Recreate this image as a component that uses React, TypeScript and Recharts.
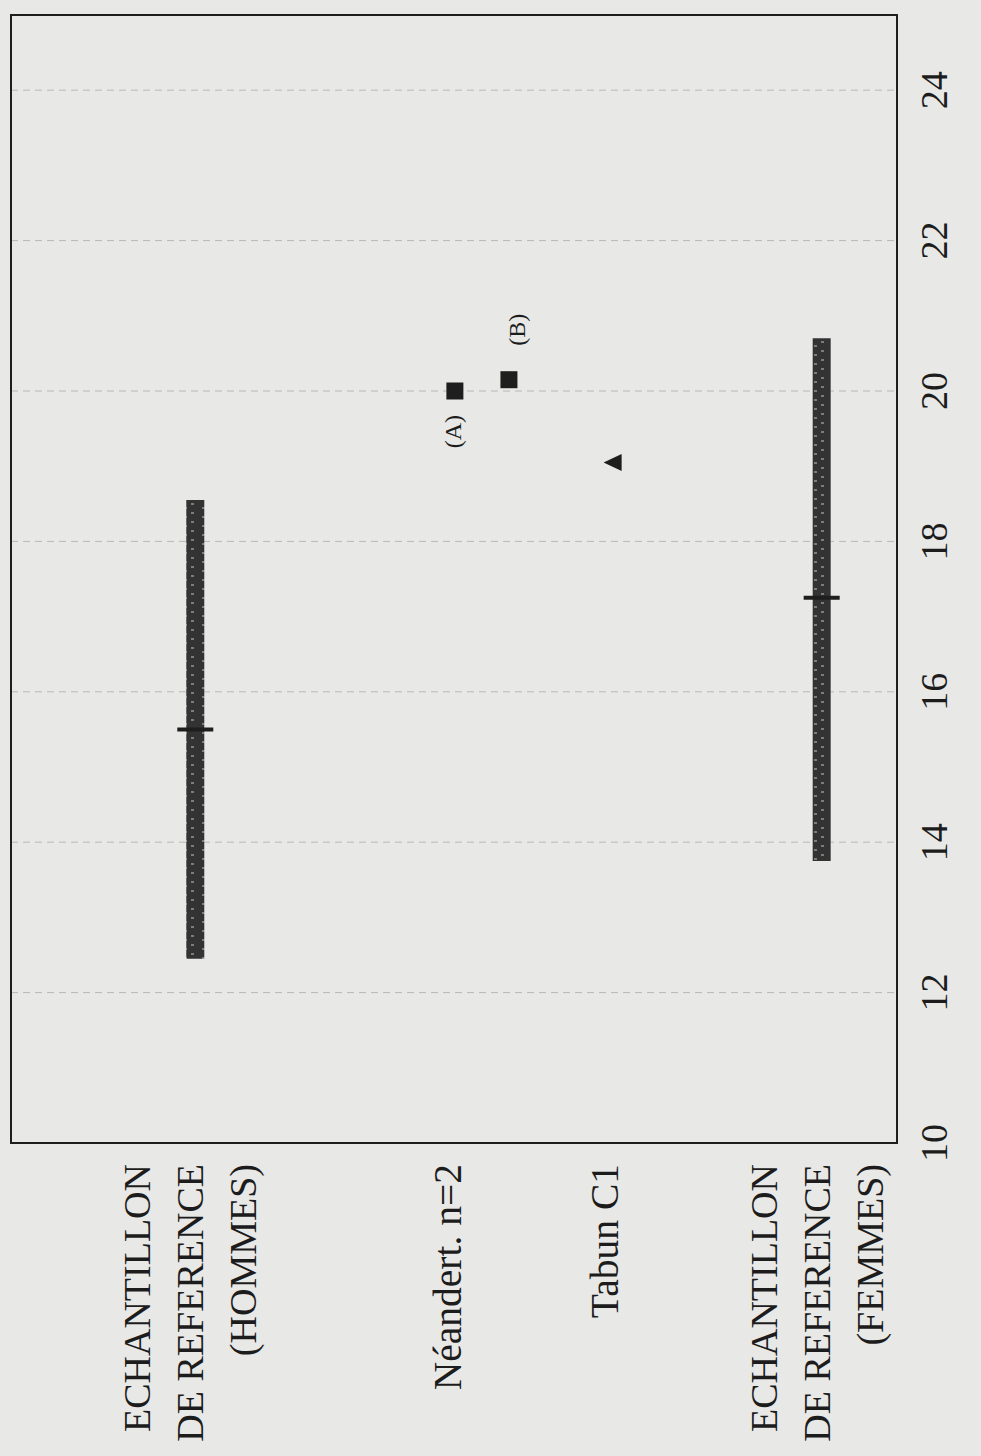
import React from 'react';
import { ScatterChart, Scatter, XAxis, YAxis, CartesianGrid, ReferenceArea } from 'recharts';

// numeric axis (drawn horizontally, then the whole chart is turned a quarter turn)
const xTicks = [10, 12, 14, 16, 18, 20, 22, 24];

// category labels on the row axis
const categoryLabels = [
    ['ECHANTILLON', 'DE REFERENCE', '(HOMMES)'],
    ['Néandert. n=2'],
    ['Tabun C1'],
    ['ECHANTILLON', 'DE REFERENCE', '(FEMMES)'],
];
const categoryRows = [20.2, 49.2, 67.0, 90.9];

// reference samples: range and mean
const refNames = ['HOMMES', 'FEMMES'];
const refMin = [12.45, 13.75];
const refMax = [18.55, 20.7];
const refMean = [15.5, 17.25];
const refRows = [20.8, 91.5];

// Neandertal individuals
const neandertLabels = ['(A)', '(B)'];
const neandertValues = [20.0, 20.15];
const neandertRows = [50.1, 56.2];

// Tabun C1
const tabunValues = [19.05];
const tabunRows = [67.9];

const FONT = '"Liberation Serif", "Times New Roman", serif';
const INK = '#1c1c1c';

const XTick = (props: any) => {
    const { x, y, payload } = props;
    return (
        <text x={x} y={y + 50} textAnchor="middle" fontSize={38} fontFamily={FONT} fill={INK}>
            {payload.value}
        </text>
    );
};

const YTick = (props: any) => {
    const { x, y, payload } = props;
    const i = categoryRows.indexOf(payload.value);
    const lines = categoryLabels[i] || [];
    const lh = 53;
    const size = lines.length > 1 ? 38 : 39.5;
    return (
        <text x={x - 21} y={y} textAnchor="end" fontSize={size} fontFamily={FONT} fill={INK}>
            {lines.map((l, k) => (
                <tspan key={k} x={x - 21} y={y + (k - (lines.length - 1) / 2) * lh} dy="0.35em">
                    {l}
                </tspan>
            ))}
        </text>
    );
};

const MeanTick = (props: any) => {
    const { cx, cy } = props;
    return <line x1={cx} x2={cx} y1={cy - 18} y2={cy + 18} stroke="#1e1e1e" strokeWidth={4} />;
};

const NoDot = () => <g />;

const SquareMark = (props: any) => {
    const { cx, cy, payload } = props;
    const isA = payload.label === '(A)';
    return (
        <g>
            <rect x={cx - 8.5} y={cy - 8.5} width={17} height={17} fill="#1e1e1e" />
            <text
                x={isA ? cx - 24 : cx + 34}
                y={isA ? cy - 2 : cy + 8}
                dy="0.35em"
                textAnchor={isA ? 'end' : 'start'}
                fontSize={24}
                fontFamily={FONT}
                fill={INK}
            >
                {payload.label}
            </text>
        </g>
    );
};

const TriangleMark = (props: any) => {
    const { cx, cy } = props;
    return <polygon points={`${cx},${cy - 9} ${cx + 8.5},${cy + 9} ${cx - 8.5},${cy + 9}`} fill="#1e1e1e" />;
};

export default function App() {
    const rangeData = refNames.map((_, i) => [
        { x: refMin[i], y: refRows[i] },
        { x: refMax[i], y: refRows[i] },
    ]);
    const meanData = refMean.map((m, i) => ({ x: m, y: refRows[i] }));
    const neandertData = neandertValues.map((v, i) => ({ x: v, y: neandertRows[i], label: neandertLabels[i] }));
    const tabunData = tabunValues.map((v, i) => ({ x: v, y: tabunRows[i] }));

    return (
        <div style={{ position: 'absolute', left: 0, top: 0, width: 981, height: 1456, overflow: 'hidden', background: '#e8e8e6' }}>
            <div
                style={{
                    position: 'absolute',
                    left: 0,
                    top: 0,
                    width: 1456,
                    height: 981,
                    transformOrigin: '0 0',
                    transform: 'translateY(1456px) rotate(-90deg)',
                }}
            >
                <ScatterChart width={1456} height={981} margin={{ top: 11, right: 15, bottom: 0, left: 0 }}>
                    <defs>
                        <pattern id="refHatch" patternUnits="userSpaceOnUse" width={9} height={18}>
                            <rect x={0} y={0} width={9} height={18} fill="#333" />
                            <rect x={2} y={4} width={2} height={3} fill="#7c7c7c" />
                            <rect x={6} y={11} width={2} height={3} fill="#7c7c7c" />
                        </pattern>
                    </defs>
                    <CartesianGrid horizontal={false} stroke="#b8b8b6" strokeDasharray="7 5" />
                    <XAxis
                        type="number"
                        dataKey="x"
                        domain={[10, 25]}
                        ticks={xTicks}
                        interval={0}
                        tick={XTick}
                        tickLine={false}
                        axisLine={false}
                        tickSize={0}
                        tickMargin={0}
                        height={84}
                        allowDataOverflow
                    />
                    <YAxis
                        type="number"
                        dataKey="y"
                        domain={[0, 100]}
                        reversed
                        ticks={categoryRows}
                        interval={0}
                        tick={YTick}
                        tickLine={false}
                        axisLine={false}
                        tickSize={0}
                        tickMargin={0}
                        width={313}
                        allowDataOverflow
                    />
                    <ReferenceArea x1={10} x2={25} y1={0} y2={100} fill="none" stroke="#1e1e1e" strokeWidth={2} />
                    {rangeData.map((d, i) => (
                        <Scatter
                            key={refNames[i]}
                            data={d}
                            fill="#333"
                            line={{ stroke: 'url(#refHatch)', strokeWidth: 18 }}
                            lineType="joint"
                            shape={NoDot}
                            isAnimationActive={false}
                        />
                    ))}
                    <Scatter data={meanData} fill="#1e1e1e" shape={MeanTick} isAnimationActive={false} />
                    <Scatter data={neandertData} fill="#1e1e1e" shape={SquareMark} isAnimationActive={false} />
                    <Scatter data={tabunData} fill="#1e1e1e" shape={TriangleMark} isAnimationActive={false} />
                </ScatterChart>
            </div>
        </div>
    );
}
